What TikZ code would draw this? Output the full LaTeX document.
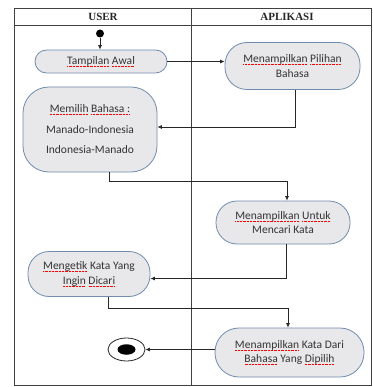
\documentclass[tikz,border=0pt]{standalone}
\usepackage{fontspec}
\setmainfont{Carlito}
\newfontfamily\hdrfont{Liberation Serif}
\usetikzlibrary{arrows.meta,shapes.geometric}
\definecolor{boxfill}{HTML}{E8E8EA}
\definecolor{boxline}{HTML}{6F8CAD}
\definecolor{txt}{HTML}{333333}
\newcommand\sq[1]{\setbox0=\hbox{#1}\rlap{\textcolor{red}{\raisebox{-1.8pt}{\hbox to \wd0{\xleaders\hbox{\rule{0.9pt}{0.45pt}\kern0.5pt}\hfill}}}}\box0\relax}
\tikzset{
  act/.style={draw=boxline, fill=boxfill, line width=0.8pt, text=txt,
    font=\fontsize{11.5}{14.5}\selectfont, align=center, inner sep=0pt},
  conn/.style={draw=black!85, line width=0.7pt, -{Latex[length=4.5pt,width=4pt]}},
  frame/.style={draw=black!75, line width=0.8pt},
  hdr/.style={font=\hdrfont\bfseries\fontsize{11}{12}\selectfont, text=black!85}
}
\begin{document}
\begin{tikzpicture}[x=1pt,y=-1pt]
\useasboundingbox (0,0) rectangle (372,387);
% frame and swimlanes
\draw[frame] (14,8) rectangle (371,385);
\draw[frame] (14,25) -- (371,25);
\draw[frame] (191.5,8) -- (191.5,385);
\node[hdr] (huser) at (103,17) {USER};
\node[hdr] (happ) at (287,17) {APLIKASI};
% start
\node[circle, fill=black, minimum size=8pt, inner sep=0pt] (start) at (100,33.5) {};
% activities
\node[act, minimum width=132pt, minimum height=23pt, rounded corners=11.5pt] (tampil) at (101,61.5) {\sq{Tampilan} \sq{Awal}};
\node[act, minimum width=135pt, minimum height=47pt, rounded corners=22pt] (pilih) at (292.5,66) {\sq{Menampilkan} \sq{Pilihan}\\Bahasa};
\node[act, minimum width=134pt, minimum height=85pt, rounded corners=26pt] (memilih) at (90,129.5) {\sq{Memilih} \sq{Bahasa :}\\[6pt]Manado-Indonesia\\[6pt]Indonesia-Manado};
\node[act, minimum width=134pt, minimum height=43pt, rounded corners=21pt] (untuk) at (283,222.5) {\sq{Menampilkan} \sq{Untuk}\\Mencari Kata};
\node[act, minimum width=122pt, minimum height=45pt, rounded corners=21pt] (ketik) at (89,274) {\sq{Mengetik} Kata Yang\\\sq{Ingin} \sq{Dicari}};
\node[act, minimum width=149pt, minimum height=49pt, rounded corners=24pt] (kata) at (289.5,352.5) {\sq{Menampilkan} Kata Dari\\\sq{Bahasa} Yang \sq{Dipilih}};
% end
\node[draw=black!85, ellipse, line width=0.8pt, minimum width=37pt, minimum height=23pt, inner sep=0pt] (end) at (126.5,349.5) {};
\node[fill=black, ellipse, minimum width=18pt, minimum height=10.5pt, inner sep=0pt] (endin) at (end.center) {};
% connectors
\draw[conn] (start) -- (tampil.north -| start);
\draw[conn] (tampil.east) -- (tampil.east -| pilih.west);
\draw[conn] ([xshift=2.5pt]pilih.south) |- ([yshift=2.5pt]memilih.east);
\draw[conn] ([xshift=19pt]memilih.south) -- ++(0,9) -| ([xshift=4pt]untuk.north);
\draw[conn] ([xshift=3pt]untuk.south) |- ([yshift=-4.5pt]ketik.east);
\draw[conn] ([xshift=19pt]ketik.south) -- ++(0,11.5) -| ([xshift=-1.5pt]kata.north);
\draw[conn] (kata.west |- end) -- (end.east);
\end{tikzpicture}
\end{document}
